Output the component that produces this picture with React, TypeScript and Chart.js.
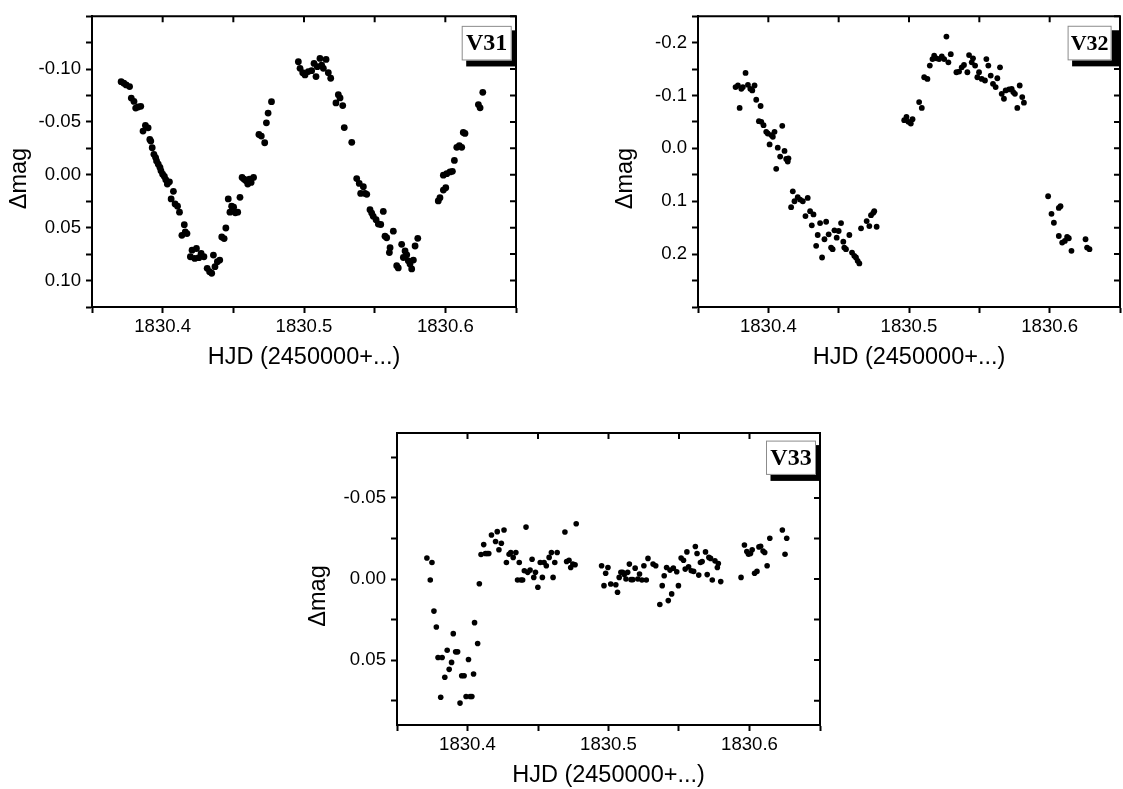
import React, { useEffect, useRef } from 'react';
import { Chart, registerables } from 'chart.js';

Chart.register(...registerables);

// ---------------- DATA ----------------
const X_LABELS = [1830.4, 1830.5, 1830.6];

const V31_Y_LABELS = [-0.1, -0.05, 0, 0.05, 0.1];
const V32_Y_LABELS = [-0.2, -0.1, 0, 0.1, 0.2];
const V33_Y_LABELS = [-0.05, 0, 0.05];

const V31_HJD = [
  1830.3706, 1830.3725, 1830.3742, 1830.3766, 1830.3778, 1830.3797, 1830.3809, 1830.3826, 1830.3845, 1830.3861,
  1830.3878, 1830.3897, 1830.3909, 1830.3916, 1830.3926, 1830.3938, 1830.395, 1830.3957, 1830.3969, 1830.3981,
  1830.3988, 1830.4, 1830.4012, 1830.4022, 1830.4033, 1830.4048, 1830.406, 1830.4076, 1830.4088, 1830.4105,
  1830.4119, 1830.4136, 1830.4153, 1830.416, 1830.4172, 1830.4196, 1830.4208, 1830.4227, 1830.4239, 1830.4256,
  1830.4272, 1830.4292, 1830.4315, 1830.4332, 1830.4347, 1830.4359, 1830.437, 1830.4387, 1830.4404, 1830.4418,
  1830.4435, 1830.4447, 1830.4464, 1830.4476, 1830.4488, 1830.4502, 1830.4514, 1830.4531, 1830.4547, 1830.4562,
  1830.4576, 1830.459, 1830.4602, 1830.4614, 1830.4626, 1830.4643, 1830.4681, 1830.4698, 1830.4722, 1830.4734,
  1830.4746, 1830.477,
  1830.496, 1830.4972, 1830.4991, 1830.5007, 1830.503, 1830.5054, 1830.5071, 1830.5085, 1830.5094, 1830.5113,
  1830.5125, 1830.5137, 1830.5156, 1830.5172, 1830.5189, 1830.5243, 1830.5226, 1830.5255, 1830.5274, 1830.5285,
  1830.5338, 1830.5373, 1830.5391, 1830.5401, 1830.542, 1830.5432, 1830.5444, 1830.5467, 1830.5479, 1830.549,
  1830.551, 1830.5526, 1830.5543, 1830.5561, 1830.5573, 1830.5585, 1830.5632, 1830.5609, 1830.5604, 1830.5656,
  1830.5667, 1830.5691, 1830.5703, 1830.5715, 1830.5727, 1830.5738, 1830.575, 1830.5762, 1830.5774, 1830.5786,
  1830.5805,
  1830.595, 1830.5962, 1830.5986, 1830.6003, 1830.5986, 1830.601, 1830.6033, 1830.605, 1830.6064, 1830.6081,
  1830.6099, 1830.6116, 1830.6127, 1830.6139, 1830.6234, 1830.6246, 1830.6265,
];
const V31_MAG = [
  -0.0881, -0.0866, -0.085, -0.0834, -0.0725, -0.0694, -0.0631, -0.0641, -0.0647, -0.0413,
  -0.0466, -0.0444, -0.0334, -0.0319, -0.0256, -0.0194, -0.0163, -0.0131, -0.01, -0.0069,
  -0.0038, -0.0006, 0.0016, 0.0047, 0.0088, 0.0066, 0.0228, 0.0156, 0.0275, 0.0297,
  0.0353, 0.0572, 0.0472, 0.0541, 0.0556, 0.0775, 0.0713, 0.0791, 0.0697, 0.0784,
  0.0744, 0.0775, 0.0884, 0.0916, 0.0931, 0.0759, 0.0869, 0.0822, 0.0806, 0.0588,
  0.0603, 0.0503, 0.0228, 0.0353, 0.0297, 0.0306, 0.0359, 0.0353, 0.0213, 0.0025,
  0.0041, 0.0056, 0.0088, 0.0041, 0.0072, 0.0025, -0.0381, -0.0366, -0.0303, -0.0491,
  -0.0584, -0.0691,
  -0.1069, -0.1007, -0.0966, -0.0944, -0.0976, -0.0985, -0.1053, -0.0929, -0.1022, -0.11,
  -0.1037, -0.1007, -0.1091, -0.0966, -0.0913, -0.0757, -0.068, -0.0727, -0.0655, -0.0447,
  -0.0307, 0.0036, 0.0082, 0.0176, 0.0113, 0.0176, 0.0185, 0.033, 0.0362, 0.0393,
  0.0424, 0.0465, 0.047, 0.0346, 0.058, 0.0595, 0.0533, 0.0689, 0.0735, 0.0859,
  0.0881, 0.0657, 0.0782, 0.072, 0.0757, 0.0813, 0.0844, 0.089, 0.0806, 0.0673,
  0.0601,
  0.0247, 0.0216, 0.0144, 0.0122, 0.0004, -0.0011, -0.0027, -0.0033, -0.0136, -0.026,
  -0.0276, -0.026, -0.04, -0.0391, -0.0664, -0.0633, -0.078,
];

const V32_HJD = [
  1830.3767, 1830.3784, 1830.3796, 1830.3808, 1830.3819, 1830.3838, 1830.3855, 1830.3872, 1830.3886, 1830.3902,
  1830.3914, 1830.3945, 1830.3933, 1830.395, 1830.3966, 1830.3985, 1830.3996, 1830.4009, 1830.4021, 1830.4032,
  1830.4044, 1830.4056, 1830.4067, 1830.4084, 1830.4099, 1830.4115, 1830.4127, 1830.4138, 1830.4143,
  1830.4162, 1830.4174, 1830.4186, 1830.4209, 1830.4226, 1830.4245, 1830.4264, 1830.428, 1830.4297, 1830.4309,
  1830.4321, 1830.434, 1830.4351, 1830.4368, 1830.4382, 1830.4399, 1830.4411, 1830.4429, 1830.4446, 1830.4457,
  1830.447, 1830.4486, 1830.45, 1830.4517, 1830.4533, 1830.454, 1830.4552, 1830.4576, 1830.4595, 1830.4611,
  1830.4623, 1830.4635, 1830.4647, 1830.4659, 1830.4699, 1830.4718, 1830.473, 1830.4746, 1830.4753, 1830.477,
  1830.4966, 1830.4982, 1830.4996, 1830.5013, 1830.5025, 1830.5072, 1830.5091, 1830.5108, 1830.5131, 1830.5148,
  1830.5167, 1830.5179, 1830.5195, 1830.5214, 1830.5233, 1830.525, 1830.5266, 1830.528, 1830.5297, 1830.5337,
  1830.5356, 1830.5375, 1830.5391, 1830.5415, 1830.5427, 1830.5446, 1830.5455, 1830.547, 1830.5486, 1830.5498,
  1830.5517, 1830.554, 1830.555, 1830.5564, 1830.5581, 1830.5597, 1830.5616, 1830.5628, 1830.5647, 1830.5659,
  1830.5675, 1830.5687, 1830.5711, 1830.573, 1830.5741, 1830.5753, 1830.577, 1830.5787, 1830.5805, 1830.5817,
  1830.5989, 1830.6013, 1830.603, 1830.6065, 1830.6077, 1830.6065, 1830.6089, 1830.6108, 1830.6124, 1830.6136,
  1830.6155, 1830.6255, 1830.6266, 1830.6283,
];
const V32_MAG = [
  -0.1158, -0.1189, -0.0764, -0.1126, -0.1158, -0.1426, -0.1201, -0.1126, -0.1096, -0.1189,
  -0.0919, -0.0801, -0.0514, -0.0501, -0.0439, -0.0313, -0.0281, -0.0075, -0.0251, -0.022,
  -0.0313, 0.0387, -0.0013, 0.0156, -0.0426, 0.0049, 0.0199, 0.025, 0.0188,
  0.1113, 0.0812, 0.1, 0.0925, 0.0968, 0.1, 0.1281, 0.0938, 0.1188, 0.1456,
  0.125, 0.1844, 0.1638, 0.1413, 0.2064, 0.1719, 0.1388, 0.1625, 0.1876, 0.1906,
  0.155, 0.1689, 0.1563, 0.1413, 0.1764, 0.1876, 0.1906, 0.1638, 0.197, 0.2032,
  0.2064, 0.2126, 0.2176, 0.1512, 0.1375, 0.1469, 0.1263, 0.122, 0.1188, 0.1482,
  -0.0533, -0.0595, -0.0501, -0.0469, -0.0552, -0.0876, -0.0764, -0.1345, -0.1313, -0.1565,
  -0.1689, -0.1752, -0.1702, -0.1689, -0.1739, -0.1689, -0.2114, -0.1627, -0.1782, -0.1439,
  -0.1452, -0.1533, -0.1576, -0.1439, -0.1764, -0.1627, -0.1702, -0.1565, -0.1345, -0.1439,
  -0.1313, -0.1283, -0.1689, -0.1565, -0.1377, -0.122, -0.1158, -0.1326, -0.1533, -0.1032,
  -0.0938, -0.1096, -0.1114, -0.1126, -0.1064, -0.1032, -0.0764, -0.1189, -0.097, -0.0863,
  0.0906, 0.1238, 0.1407, 0.1126, 0.1094, 0.1657, 0.1782, 0.175, 0.1675, 0.17,
  0.1938, 0.1719, 0.1876, 0.1906,
];

const V33_HJD = [
  1830.3712, 1830.3736, 1830.3748, 1830.3762, 1830.3779, 1830.3791, 1830.381, 1830.382, 1830.3839, 1830.3856,
  1830.387, 1830.3887, 1830.3899, 1830.3916, 1830.393, 1830.3947, 1830.3959, 1830.3976, 1830.399, 1830.4007,
  1830.4019, 1830.4031, 1830.4043, 1830.405, 1830.4072, 1830.4084,
  1830.4096, 1830.4115, 1830.4127, 1830.4139, 1830.4151, 1830.417, 1830.4199, 1830.4211, 1830.4223, 1830.424,
  1830.4259, 1830.4276, 1830.4295, 1830.4307, 1830.4324, 1830.4343, 1830.4355, 1830.4367, 1830.4379, 1830.4391,
  1830.4403, 1830.4415, 1830.4427, 1830.4444, 1830.4458, 1830.447, 1830.4482, 1830.4499, 1830.4516, 1830.4531,
  1830.4543, 1830.4559, 1830.4579, 1830.4595, 1830.4607, 1830.4619, 1830.4636, 1830.4691, 1830.4703, 1830.472,
  1830.4732, 1830.4747, 1830.4763, 1830.4771,
  1830.4951, 1830.4968, 1830.498, 1830.4996, 1830.5016, 1830.5052, 1830.5064, 1830.5076, 1830.5088, 1830.51,
  1830.5112, 1830.5124, 1830.5136, 1830.5148, 1830.516, 1830.5172, 1830.5189, 1830.5208, 1830.522, 1830.5237,
  1830.5251, 1830.5268, 1830.528, 1830.5316, 1830.5335, 1830.5364, 1830.5381, 1830.5395, 1830.5412, 1830.5424,
  1830.5436, 1830.5448, 1830.546, 1830.5484, 1830.5496, 1830.5515, 1830.5532, 1830.5544, 1830.5556, 1830.5568,
  1830.5587, 1830.5604, 1830.5616, 1830.5628, 1830.564, 1830.5652, 1830.5664, 1830.5688, 1830.57, 1830.5712,
  1830.5724, 1830.5736, 1830.5755, 1830.5772, 1830.5779, 1830.5796,
  1830.594, 1830.5964, 1830.5981, 1830.5993, 1830.6007, 1830.6019, 1830.6036, 1830.6053, 1830.6067, 1830.6079,
  1830.6096, 1830.6108, 1830.6125, 1830.6144, 1830.6233, 1830.6252, 1830.6264,
];
const V33_MAG = [
  -0.0129, 0.0006, -0.0102, 0.0198, 0.0296, 0.0484, 0.0729, 0.0484, 0.0606, 0.0439,
  0.0557, 0.0514, 0.0337, 0.0449, 0.0449, 0.0765, 0.0596, 0.0596, 0.0724, 0.0496,
  0.0724, 0.0724, 0.0586, 0.0269, 0.0398, 0.0029,
  -0.0151, -0.0212, -0.0157, -0.0157, -0.0157, -0.0271, -0.0231, -0.0292, -0.018, -0.022,
  -0.0302, -0.0102, -0.0153, -0.0163, -0.0133, -0.0163, 0.0006, -0.0102, 0.0006, 0.0006,
  -0.0051, -0.032, -0.0041, -0.0055, -0.0122, -0.001, -0.0041, 0.0051, -0.0102, -0.001,
  -0.0102, -0.0082, -0.0133, -0.0163, -0.001, -0.0102, -0.0163, -0.029, -0.0108, -0.0116,
  -0.0071, -0.0092, -0.0088, -0.0341,
  -0.0082, 0.0041, -0.0035, -0.0071, 0.0031, 0.0035, 0.0082, -0.001, -0.0041, -0.0041,
  -0.0027, 0.0, -0.0041, -0.0092, 0.0004, 0.0004, -0.0067, 0.0, -0.0031, 0.0006,
  -0.0082, 0.0006, -0.0127, -0.0092, -0.0082, 0.0157, 0.0041, -0.002, -0.0071, 0.0133,
  -0.0055, 0.0092, -0.0067, -0.0045, 0.0041, -0.0129, -0.0116, -0.0061, -0.0167, -0.0075,
  -0.0051, -0.0047, -0.02, -0.0157, -0.0024, -0.0102, -0.0108, -0.0167, -0.0027, -0.0133,
  -0.0127, 0.0006, -0.0112, -0.0071, -0.0096, 0.0016,
  -0.001, -0.021, -0.0169, -0.0153, -0.0157, -0.018, -0.0035, -0.0047, -0.0198, -0.0202,
  -0.0173, -0.0163, -0.0082, -0.0251, -0.0302, -0.0153, -0.0251,
];

// ---------------- LAYOUT / STYLE ----------------
const W = 1123;
const H = 789;
const Y_AXIS_W = 70;
const X_AXIS_H = 40;
const SANS = '"Liberation Sans", Arial, Helvetica, sans-serif';
const SERIF = '"Liberation Serif", "Times New Roman", serif';

type Panel = {
  name: string;
  hjd: number[];
  mag: number[];
  yMin: number;
  yMax: number;
  yStep: number;
  yLabels: number[];
  yDec: number;
  area: { l: number; t: number; r: number; b: number };
  radius: number;
  titleDx: number;
  box: { gap: number; dy: number; w: number; h: number; font: number };
};

const PANELS: Panel[] = [
  {
    name: 'V31', hjd: V31_HJD, mag: V31_MAG,
    yMin: -0.15, yMax: 0.125, yStep: 0.025, yLabels: V31_Y_LABELS, yDec: 2,
    area: { l: 92, t: 13, r: 516, b: 307 }, radius: 3.4, titleDx: 72,
    box: { gap: 4.3, dy: 9.7, w: 50, h: 34.6, font: 24 },
  },
  {
    name: 'V32', hjd: V32_HJD, mag: V32_MAG,
    yMin: -0.25, yMax: 0.3, yStep: 0.05, yLabels: V32_Y_LABELS, yDec: 1,
    area: { l: 698, t: 13, r: 1122, b: 307 }, radius: 2.9, titleDx: 72,
    box: { gap: 8.4, dy: 9.6, w: 44, h: 34.6, font: 22 },
  },
  {
    name: 'V33', hjd: V33_HJD, mag: V33_MAG,
    yMin: -0.09, yMax: 0.09, yStep: 0.025, yLabels: V33_Y_LABELS, yDec: 2,
    area: { l: 397, t: 433, r: 820, b: 725 }, radius: 2.8, titleDx: 78,
    box: { gap: 4, dy: 7.6, w: 50, h: 34.3, font: 24 },
  },
];

const X_MIN = 1830.35;
const X_MAX = 1830.65;
const X_STEP = 0.05;

function makeTicks(min: number, max: number, step: number) {
  const out: { value: number }[] = [];
  const start = Math.ceil(min / step - 1e-9);
  const end = Math.floor(max / step + 1e-9);
  for (let i = start; i <= end; i++) out.push({ value: Number((i * step).toFixed(6)) });
  return out;
}

function labelFor(v: number, list: number[], dec: number) {
  return list.some((l) => Math.abs(l - v) < 1e-7) ? v.toFixed(dec) : '';
}

function decorPlugin(p: Panel) {
  return {
    id: 'decor_' + p.name,
    afterDraw(chart: any) {
      const ctx = chart.ctx as CanvasRenderingContext2D;
      const { left, right, top, bottom } = chart.chartArea;
      const xs = chart.scales.x;
      const ys = chart.scales.y;
      ctx.save();
      // frame top & right
      ctx.strokeStyle = '#000';
      ctx.lineWidth = 2;
      ctx.beginPath();
      ctx.moveTo(left - 1, top);
      ctx.lineTo(right, top);
      ctx.lineTo(right, bottom + 1);
      ctx.stroke();
      // inward mirror ticks
      ctx.beginPath();
      xs.ticks.forEach((t: any) => {
        const px = xs.getPixelForValue(t.value);
        ctx.moveTo(px, top);
        ctx.lineTo(px, top + 6);
      });
      ys.ticks.forEach((t: any) => {
        const py = ys.getPixelForValue(t.value);
        ctx.moveTo(right, py);
        ctx.lineTo(right - 6, py);
      });
      ctx.stroke();

      // axis titles
      ctx.fillStyle = '#000';
      ctx.font = `23.5px ${SANS}`;
      ctx.textAlign = 'center';
      ctx.textBaseline = 'middle';
      ctx.fillText('HJD (2450000+...)', (left + right) / 2, bottom + 51);
      ctx.save();
      ctx.translate(left - p.titleDx, (top + bottom) / 2 + 17);
      ctx.rotate(-Math.PI / 2);
      ctx.fillText('\u0394mag', 0, 0);
      ctx.restore();

      // label box with shadow
      const b = p.box;
      const bx = right - b.gap - b.w;
      const by = top + b.dy;
      ctx.fillStyle = '#000';
      ctx.fillRect(bx + 4.5, by + 4.5, right + 1 - (bx + 4.5), b.h + 1.5);
      ctx.fillStyle = '#fff';
      ctx.fillRect(bx, by, b.w, b.h);
      ctx.strokeStyle = '#8c8c8c';
      ctx.lineWidth = 1;
      ctx.strokeRect(bx + 0.5, by + 0.5, b.w - 1, b.h - 1);
      ctx.fillStyle = '#000';
      ctx.font = `bold ${b.font}px ${SERIF}`;
      ctx.textAlign = 'center';
      ctx.textBaseline = 'middle';
      ctx.fillText(p.name, bx + b.w / 2, by + b.h / 2 + 1);
      ctx.restore();
    },
  };
}

function buildConfig(p: Panel): any {
  const tickFont = { family: SANS, size: 18.6 };
  return {
    type: 'scatter',
    data: {
      datasets: [
        {
          data: p.hjd.map((x, i) => ({ x, y: p.mag[i] })),
          pointRadius: p.radius,
          pointHoverRadius: p.radius,
          pointBackgroundColor: '#000',
          pointBorderWidth: 0,
          showLine: false,
        },
      ],
    },
    options: {
      animation: false,
      responsive: false,
      devicePixelRatio: 1,
      events: [],
      layout: {
        padding: {
          left: p.area.l - Y_AXIS_W,
          top: p.area.t,
          right: W - p.area.r,
          bottom: H - p.area.b - X_AXIS_H,
        },
      },
      plugins: { legend: { display: false }, tooltip: { enabled: false }, title: { display: false } },
      scales: {
        x: {
          type: 'linear',
          position: 'bottom',
          min: X_MIN,
          max: X_MAX,
          afterBuildTicks: (s: any) => { s.ticks = makeTicks(X_MIN, X_MAX, X_STEP); },
          afterFit: (s: any) => { s.height = X_AXIS_H; },
          ticks: {
            callback: (v: number) => labelFor(v, X_LABELS, 1),
            font: tickFont,
            color: '#000',
            padding: 3,
            maxRotation: 0,
            autoSkip: false,
          },
          grid: { display: true, drawOnChartArea: false, drawTicks: true, tickLength: 6, tickWidth: 2, tickColor: '#000' },
          border: { display: true, color: '#000', width: 2 },
        },
        y: {
          type: 'linear',
          position: 'left',
          reverse: true,
          min: p.yMin,
          max: p.yMax,
          afterBuildTicks: (s: any) => { s.ticks = makeTicks(p.yMin, p.yMax, p.yStep); },
          afterFit: (s: any) => { s.width = Y_AXIS_W; },
          ticks: {
            callback: (v: number) => labelFor(v, p.yLabels, p.yDec),
            font: tickFont,
            color: '#000',
            padding: 5,
            autoSkip: false,
          },
          grid: { display: true, drawOnChartArea: false, drawTicks: true, tickLength: 6, tickWidth: 2, tickColor: '#000' },
          border: { display: true, color: '#000', width: 2 },
        },
      },
    },
    plugins: [decorPlugin(p)],
  };
}

function PanelChart({ panel }: { panel: Panel }) {
  const ref = useRef<HTMLCanvasElement>(null);
  useEffect(() => {
    if (!ref.current) return;
    const chart = new Chart(ref.current, buildConfig(panel));
    return () => chart.destroy();
  }, [panel]);
  return (
    <canvas
      ref={ref}
      width={W}
      height={H}
      style={{ position: 'absolute', left: 0, top: 0, width: W, height: H }}
    />
  );
}

export default function App() {
  return (
    <div style={{ position: 'absolute', left: 0, top: 0, width: W, height: H, background: '#fff', overflow: 'hidden' }}>
      {PANELS.map((p) => (
        <PanelChart key={p.name} panel={p} />
      ))}
    </div>
  );
}
